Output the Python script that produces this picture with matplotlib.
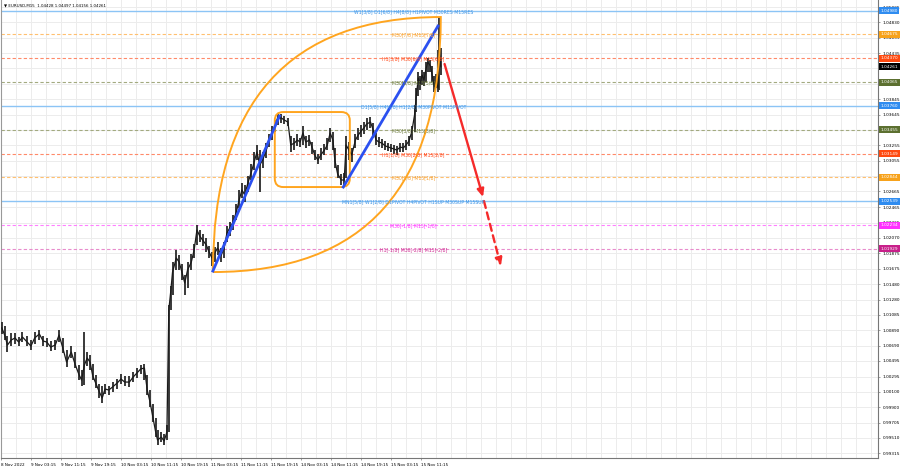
import matplotlib
matplotlib.use('Agg')
import matplotlib.pyplot as plt
import matplotlib.transforms as mtransforms
from matplotlib.patches import FancyBboxPatch, PathPatch
from matplotlib.path import Path

# EURUSD M15 price path (sampled bars)
bar_idx = [1, 4, 7, 11, 15, 19, 23, 28, 32, 36,
           41, 45, 49, 53, 58, 62, 66, 70, 75, 79,
           83, 86, 89, 92, 95, 98, 101, 105, 108, 111,
           115, 119, 124, 128, 132, 137, 141, 145, 149, 153,
           156, 159, 162, 165, 167, 171, 174, 177, 179, 181,
           183, 187, 190, 193, 196, 199, 203, 206, 209, 212,
           215, 219, 222, 225, 228, 231, 235, 238, 241, 244,
           247, 251, 254, 257, 260, 263, 267, 270, 273, 276,
           279, 283, 286, 289, 292, 295, 299, 302, 306, 309,
           313, 316, 319, 322, 325, 329, 332, 335, 338, 341,
           345, 348, 351, 354, 356, 359, 363, 366, 368, 371,
           374, 378, 381, 384, 387, 390, 394, 397, 400, 403,
           406, 410, 413, 416, 419, 422, 426, 429, 432, 435,
           438, 441, 443, 445, 447, 449, 451, 453, 455, 458,
           460, 462, 464, 466, 467, 469]

close = [1.00917, 1.00827, 1.00699, 1.00763, 1.00789, 1.00737, 1.00801, 1.00737, 1.00686, 1.00789,
         1.00840, 1.00750, 1.00737, 1.00673, 1.00699, 1.00827, 1.00661, 1.00481, 1.00609, 1.00456,
         1.00328, 1.00251, 1.00443, 1.00533, 1.00481, 1.00302, 1.00213, 1.00097, 1.00021, 1.00136,
         1.00123, 1.00161, 1.00213, 1.00264, 1.00225, 1.00225, 1.00289, 1.00341, 1.00392, 1.00405,
         1.00123, 0.99969, 0.99777, 0.99585, 0.99483, 0.99521, 0.99470, 0.99585, 1.01147, 1.01377,
         1.01633, 1.01813, 1.01761, 1.01633, 1.01493, 1.01659, 1.01761, 1.01915, 1.02171, 1.02094,
         1.02043, 1.01979, 1.01889, 1.01813, 1.01877, 1.01941, 1.01851, 1.01941, 1.02133, 1.02197,
         1.02261, 1.02401, 1.02555, 1.02683, 1.02619, 1.02760, 1.02913, 1.03041, 1.03169, 1.03003,
         1.03067, 1.03195, 1.03323, 1.03413, 1.03502, 1.03605, 1.03605, 1.03579, 1.03553, 1.03259,
         1.03285, 1.03323, 1.03297, 1.03413, 1.03297, 1.03323, 1.03221, 1.03118, 1.03067, 1.03131,
         1.03195, 1.03259, 1.03413, 1.03323, 1.03067, 1.02888, 1.02811, 1.02811, 1.03259, 1.03195,
         1.03131, 1.03323, 1.03387, 1.03438, 1.03477, 1.03528, 1.03553, 1.03451, 1.03323, 1.03297,
         1.03285, 1.03246, 1.03233, 1.03221, 1.03208, 1.03195, 1.03233, 1.03221, 1.03259, 1.03310,
         1.03425, 1.03643, 1.03899, 1.04117, 1.04040, 1.04155, 1.04091, 1.04219, 1.04321, 1.04270,
         1.04142, 1.04014, 1.04091, 1.03989, 1.04475, 1.04261]

high = [1.00993, 1.00942, 1.00814, 1.00853, 1.00853, 1.00801, 1.00865, 1.00814, 1.00763, 1.00865,
        1.00891, 1.00814, 1.00789, 1.00750, 1.00763, 1.00891, 1.00789, 1.00635, 1.00686, 1.00609,
        1.00443, 1.00379, 1.00865, 1.00609, 1.00571, 1.00456, 1.00315, 1.00200, 1.00174, 1.00200,
        1.00174, 1.00225, 1.00264, 1.00328, 1.00302, 1.00302, 1.00353, 1.00405, 1.00443, 1.00456,
        1.00315, 1.00123, 0.99944, 0.99765, 0.99611, 0.99585, 0.99560, 0.99675, 1.01211, 1.01454,
        1.01761, 1.01915, 1.01851, 1.01736, 1.01595, 1.01761, 1.01864, 1.01992, 1.02235, 1.02171,
        1.02120, 1.02069, 1.01966, 1.01889, 1.01953, 1.02017, 1.01941, 1.02017, 1.02222, 1.02273,
        1.02363, 1.02504, 1.02683, 1.02773, 1.02747, 1.02862, 1.03016, 1.03169, 1.03259, 1.03195,
        1.03169, 1.03285, 1.03400, 1.03502, 1.03579, 1.03656, 1.03656, 1.03630, 1.03605, 1.03374,
        1.03349, 1.03400, 1.03349, 1.03502, 1.03374, 1.03387, 1.03297, 1.03195, 1.03144, 1.03221,
        1.03272, 1.03349, 1.03477, 1.03425, 1.03221, 1.03003, 1.02888, 1.02901, 1.03374, 1.03297,
        1.03221, 1.03400, 1.03477, 1.03515, 1.03553, 1.03605, 1.03617, 1.03541, 1.03413, 1.03361,
        1.03336, 1.03310, 1.03285, 1.03272, 1.03259, 1.03246, 1.03285, 1.03285, 1.03323, 1.03374,
        1.03502, 1.03771, 1.03989, 1.04193, 1.04142, 1.04219, 1.04193, 1.04321, 1.04373, 1.04347,
        1.04270, 1.04142, 1.04168, 1.04475, 1.04885, 1.04497]

low = [1.00840, 1.00763, 1.00609, 1.00686, 1.00712, 1.00686, 1.00737, 1.00686, 1.00635, 1.00712,
       1.00763, 1.00686, 1.00673, 1.00622, 1.00635, 1.00737, 1.00597, 1.00417, 1.00533, 1.00405,
       1.00251, 1.00174, 1.00187, 1.00430, 1.00379, 1.00251, 1.00149, 1.00021, 0.99957, 1.00072,
       1.00059, 1.00097, 1.00136, 1.00200, 1.00174, 1.00161, 1.00225, 1.00277, 1.00328, 1.00251,
       1.00059, 0.99905, 0.99713, 0.99521, 0.99419, 0.99457, 0.99419, 0.99483, 0.99585, 1.01147,
       1.01339, 1.01659, 1.01659, 1.01531, 1.01339, 1.01429, 1.01659, 1.01813, 1.01979, 1.02017,
       1.01966, 1.01889, 1.01813, 1.01710, 1.01761, 1.01851, 1.01761, 1.01813, 1.02017, 1.02094,
       1.02171, 1.02299, 1.02453, 1.02581, 1.02529, 1.02657, 1.02811, 1.02939, 1.03067, 1.02657,
       1.02965, 1.03093, 1.03233, 1.03323, 1.03425, 1.03515, 1.03541, 1.03528, 1.03502, 1.03169,
       1.03195, 1.03246, 1.03233, 1.03259, 1.03221, 1.03246, 1.03144, 1.03067, 1.03016, 1.03067,
       1.03131, 1.03195, 1.03297, 1.03195, 1.02965, 1.02837, 1.02747, 1.02734, 1.02837, 1.03067,
       1.03041, 1.03221, 1.03323, 1.03361, 1.03400, 1.03451, 1.03477, 1.03349, 1.03259, 1.03233,
       1.03221, 1.03195, 1.03182, 1.03169, 1.03144, 1.03131, 1.03169, 1.03169, 1.03195, 1.03246,
       1.03323, 1.03425, 1.03681, 1.03886, 1.03963, 1.04027, 1.04014, 1.04065, 1.04193, 1.04193,
       1.04065, 1.03937, 1.03989, 1.03937, 1.03963, 1.04156]

# Murrey levels
level_prices = [1.04980, 1.04675, 1.04370, 1.04065, 1.03760, 1.03455,
                1.03149, 1.02844, 1.02539, 1.02234, 1.01929]
level_texts = ['W1[3/8] D1[6/8] H4[8/8] H1PIVOT M30RES M15RES',
               'M30[7/8] M15[7/8]',
               'H1[3/8] M30[6/8] M15[6/8]',
               'M30[5/8] M15[5/8]',
               'D1[5/8] H4[6/8] H1[2/8] M30PIVOT M15PIVOT',
               'M30[3/8] M15[3/8]',
               'H1[1/8] M30[2/8] M15[2/8]',
               'M30[1/8] M15[1/8]',
               'MN1[5/8] W1[2/8] D1PIVOT H4PIVOT H1SUP M30SUP M15SUP',
               'M30[-1/8] M15[-1/8]',
               'H1[-1/8] M30[-2/8] M15[-2/8]']
level_kinds = ['blue', 'orange', 'red', 'olive', 'blue', 'olive',
               'red', 'orange', 'blue', 'magenta', 'violet']
last_price = 1.04261

kind_line = {'blue': '#8cc4f5', 'orange': '#ffc070', 'red': '#ff8a6a',
             'olive': '#a3aa80', 'magenta': '#ff80ff', 'violet': '#e88ccc'}
kind_text = {'blue': '#3d94e6', 'orange': '#f5a030', 'red': '#ff4a1a',
             'olive': '#6b7a3a', 'magenta': '#ff30ff', 'violet': '#d02890'}
kind_tag = {'blue': '#2f8cf0', 'orange': '#f7a21b', 'red': '#ff4a10',
            'olive': '#5c7030', 'magenta': '#ff30ff', 'violet': '#c8208a'}

ytick_vals = [1.05025, 1.04830, 1.04635, 1.04435, 1.04240, 1.04045, 1.03845, 1.03645,
              1.03450, 1.03255, 1.03055, 1.02860, 1.02665, 1.02465, 1.02265, 1.02070,
              1.01875, 1.01675, 1.01480, 1.01280, 1.01085, 1.00890, 1.00690, 1.00495,
              1.00295, 1.00100, 0.99900, 0.99705, 0.99510, 0.99315]
# tick labels hidden behind the price tags in the terminal
ytick_hidden = [1.04240, 1.04045, 1.03450, 1.02860]

xtick_labels = ['8 Nov 2022', '9 Nov 03:15', '9 Nov 11:15', '9 Nov 19:15', '10 Nov 03:15',
                '10 Nov 11:15', '10 Nov 19:15', '11 Nov 03:15', '11 Nov 11:15', '11 Nov 19:15',
                '14 Nov 03:15', '14 Nov 11:15', '14 Nov 19:15', '15 Nov 03:15', '15 Nov 11:15']

# drawn objects (bar index, price)
trend1 = ([226, 297], [1.01646, 1.03630])
trend2 = ([365, 466], [1.02721, 1.04782])
arrow_solid = ((473, 1.04296), (514, 1.02593))
arrow_dashed = ((515, 1.02542), (533, 1.01710))
lens_start = (226, 1.01633)
lens_end = (469, 1.04897)
box_x = (292, 372)
box_y = (1.02721, 1.03681)

fig = plt.figure(figsize=(9, 4.68), dpi=100)
ax = fig.add_axes([0.001, 10 / 468, 877 / 900, 458 / 468])
ax.set_xlim(0, 935)
ax.set_ylim(0.99253, 1.05115)

# grid
for yv in ytick_vals:
    ax.axhline(yv, color='#ececec', lw=0.7, zorder=0)
for xv in range(16, 935, 16):
    ax.axvline(xv, color='#ececec', lw=0.7, zorder=0)

# levels
for p, t, k in zip(level_prices, level_texts, level_kinds):
    if k == 'blue':
        ax.axhline(p, color=kind_line[k], lw=1.0, zorder=1)
    else:
        ax.axhline(p, color=kind_line[k], lw=0.8, ls=(0, (3, 2)), zorder=1)
    ax.text(440, p - 0.0001, t, color=kind_text[k], fontsize=3.3, ha='center', va='center', zorder=6)

# price
ax.vlines(bar_idx, low, high, color='#2a2a2a', lw=1.3, zorder=3)
ax.plot(bar_idx, close, color='#1a1a1a', lw=0.9, zorder=3)

# orange lens
x0, y0 = lens_start
x1, y1 = lens_end
lens = Path([(x0, y0), (x0, y1), (x1, y1), (x1, y0), (x0, y0)],
            [Path.MOVETO, Path.CURVE3, Path.CURVE3, Path.CURVE3, Path.CURVE3])
ax.add_patch(PathPatch(lens, fill=False, ec='#ffa51f', lw=1.4, zorder=4))

# orange rounded box
ax.add_patch(FancyBboxPatch((box_x[0], box_y[0]), box_x[1] - box_x[0], box_y[1] - box_y[0],
                            boxstyle='round,pad=0,rounding_size=9', mutation_aspect=0.00012,
                            fill=False, ec='#ffa51f', lw=1.4, zorder=4))

# blue trend lines
ax.plot(trend1[0], trend1[1], color='#2b50f0', lw=2.0, zorder=5)
ax.plot(trend2[0], trend2[1], color='#2b50f0', lw=2.0, zorder=5)

# red projection arrows
ax.annotate('', xy=arrow_solid[1], xytext=arrow_solid[0],
            arrowprops=dict(arrowstyle='-|>,head_length=0.45,head_width=0.2', color='#f52a2a', lw=1.7,
                            shrinkA=0, shrinkB=0), zorder=5)
ax.annotate('', xy=arrow_dashed[1], xytext=arrow_dashed[0],
            arrowprops=dict(arrowstyle='-|>,head_length=0.45,head_width=0.2', color='#f52a2a', lw=1.7,
                            ls=(0, (3, 2)), shrinkA=0, shrinkB=0), zorder=5)

# axes styling
ax.spines['top'].set_visible(False)
for s in ['left', 'right', 'bottom']:
    ax.spines[s].set_linewidth(0.8)
ax.spines['left'].set_color('#999999')
ax.spines['right'].set_color('#777777')
ax.spines['bottom'].set_color('#777777')

ax.yaxis.tick_right()
ylabels = ['' if v in ytick_hidden else f'{v:.5f}' for v in ytick_vals]
ax.set_yticks(ytick_vals, ylabels, fontsize=3.1)
ax.tick_params(axis='y', length=1.5, width=0.5, color='#777777', pad=2)
ax.set_xticks([32 * i for i in range(len(xtick_labels))], xtick_labels, fontsize=3.0, ha='left')
ax.tick_params(axis='x', length=1.5, width=0.5, color='#777777', pad=2)

# right axis price tags
trans = mtransforms.blended_transform_factory(ax.transAxes, ax.transData)
for p, k in zip(level_prices, level_kinds):
    ax.text(1.003, p, f'{p:.5f}', transform=trans, fontsize=3.1, color='white', ha='left', va='center',
            bbox=dict(boxstyle='square,pad=0.35', fc=kind_tag[k], ec='none'), clip_on=False, zorder=10)
ax.text(1.003, last_price, f'{last_price:.5f}', transform=trans, fontsize=3.1, color='white',
        ha='left', va='center', bbox=dict(boxstyle='square,pad=0.35', fc='black', ec='none'),
        clip_on=False, zorder=10)

# title
ax.text(0.003, 0.993, '\u25bc EURUSD,M15  1.04428 1.04497 1.04156 1.04261', transform=ax.transAxes,
        fontsize=2.9, color='black', ha='left', va='top', zorder=10)

fig.savefig('out.png', dpi=100)
